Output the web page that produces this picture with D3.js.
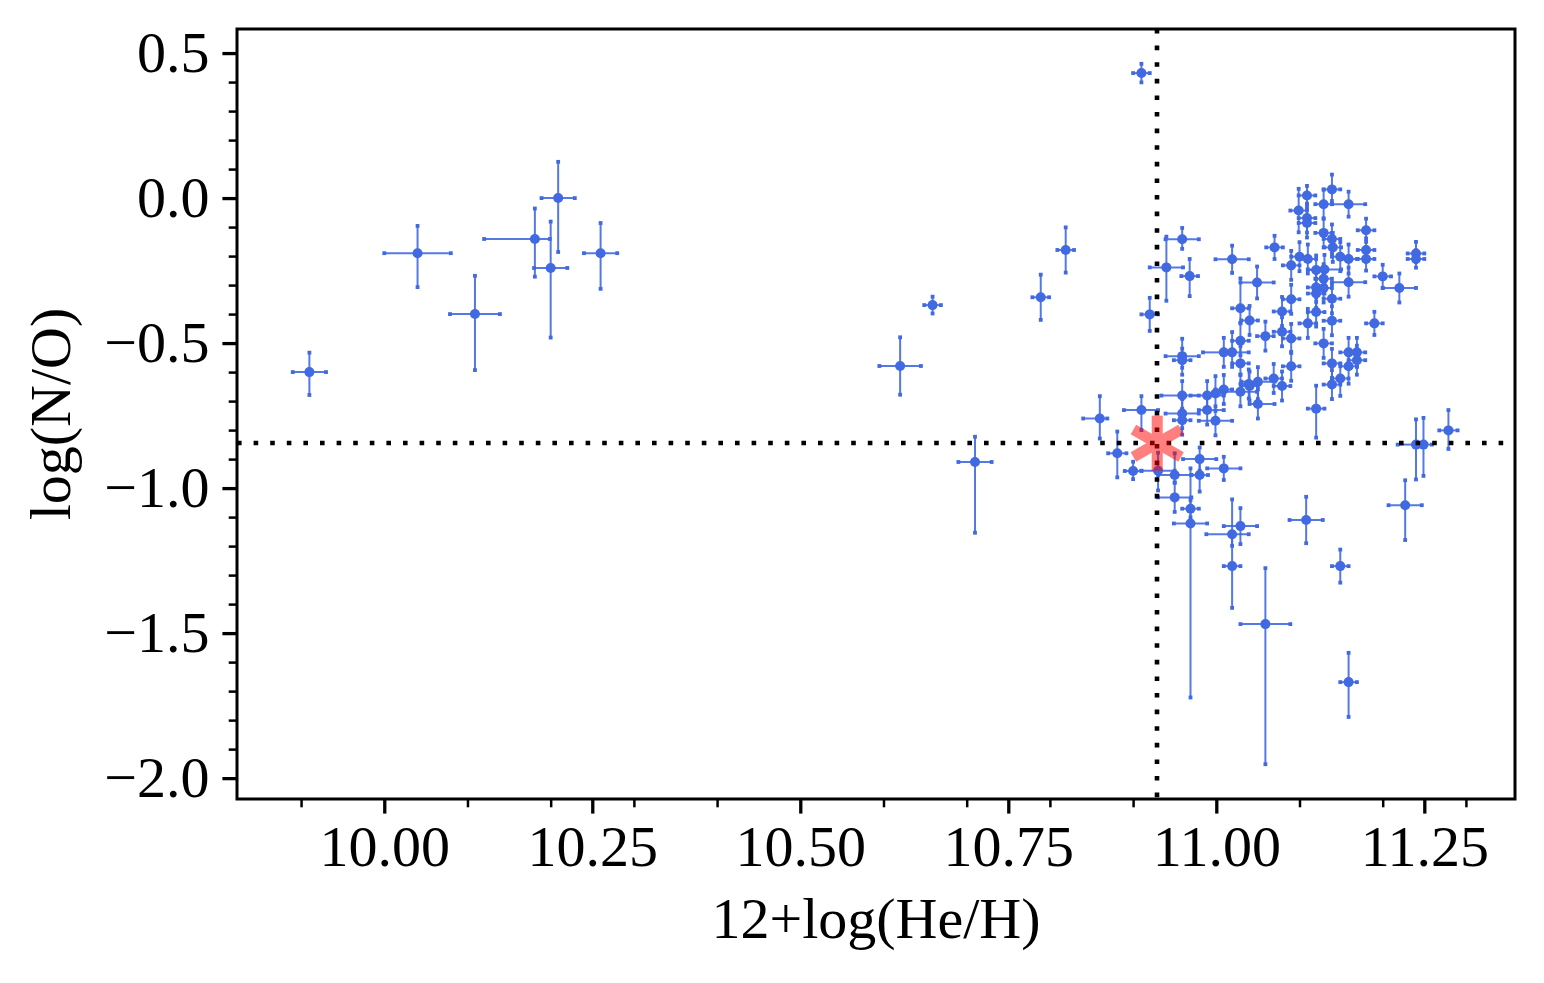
<!DOCTYPE html>
<html>
<head>
<meta charset="utf-8">
<script src="https://cdn.jsdelivr.net/npm/d3@7"></script>
<style>
  body { margin: 0; background: #fff; }
  text { font-family: "Liberation Serif", "Times New Roman", serif; fill: #000; }
</style>
</head>
<body>
<div id="chart"></div>
<script>
// sets dimensions of the canvas
var margin = {top: 29, right: 29, bottom: 184, left: 237},
    width = 1544 - margin.left - margin.right,
    height = 983 - margin.top - margin.bottom;

// 12+log(He/H) of each object
var heH = [
  9.910, 10.040, 10.109, 10.181, 10.200, 10.209, 10.260,
  10.620, 10.659, 10.710, 10.789, 10.819, 10.910,
  10.860, 10.910, 10.881, 10.900, 10.930, 10.950, 10.980, 10.980, 11.009,
  10.950, 10.969, 10.969, 11.029, 11.019, 11.019, 11.059, 11.149, 11.159,
  11.108, 11.227, 11.240, 11.249, 11.279, 11.120,
  10.959, 10.940, 10.968, 11.019, 11.049, 10.920, 11.029, 11.040,
  10.959, 10.959, 11.009, 11.019, 11.029, 11.029, 11.039, 11.050, 11.050,
  11.029, 11.009, 10.999, 10.989, 10.959, 10.989, 10.959, 10.959, 10.999, 11.040,
  11.139, 11.109, 11.129, 11.159, 11.099, 11.109, 11.109, 11.180, 11.129, 11.139,
  11.140, 11.180, 11.240, 11.070, 11.180, 11.240, 11.100, 11.110, 11.149, 11.159,
  11.090, 11.120, 11.130, 11.200, 11.129, 11.159, 11.120, 11.129, 11.220, 11.120,
  11.139, 11.090, 11.079, 11.120, 11.139, 11.110, 11.190, 11.079, 11.059, 11.090,
  11.139, 11.159, 11.169, 11.169, 11.159, 11.149, 11.139, 11.129, 11.090, 11.069, 11.079
];
var heErrLo = [
  0.020, 0.040, 0.030, 0.061, 0.020, 0.020, 0.020,
  0.025, 0.010, 0.020, 0.010, 0.010, 0.010,
  0.020, 0.021, 0.011, 0.010, 0.020, 0.020, 0.020, 0.010, 0.020,
  0.020, 0.010, 0.020, 0.020, 0.031, 0.010, 0.030, 0.010, 0.010,
  0.020, 0.020, 0.022, 0.010, 0.011, 0.010,
  0.020, 0.020, 0.010, 0.020, 0.020, 0.010, 0.010, 0.010,
  0.020, 0.010, 0.025, 0.010, 0.010, 0.010, 0.010, 0.020, 0.010,
  0.020, 0.010, 0.010, 0.020, 0.025, 0.010, 0.020, 0.010, 0.020, 0.010,
  0.010, 0.010, 0.010, 0.020, 0.010, 0.010, 0.010, 0.010, 0.010, 0.010,
  0.010, 0.010, 0.010, 0.010, 0.010, 0.010, 0.010, 0.010, 0.010, 0.010,
  0.010, 0.010, 0.020, 0.010, 0.010, 0.020, 0.010, 0.010, 0.020, 0.010,
  0.010, 0.010, 0.010, 0.010, 0.010, 0.010, 0.010, 0.010, 0.010, 0.010,
  0.010, 0.010, 0.010, 0.010, 0.010, 0.010, 0.010, 0.010, 0.010, 0.010, 0.010
];
var heErrHi = [
  0.020, 0.040, 0.030, 0.018, 0.020, 0.020, 0.020,
  0.025, 0.010, 0.020, 0.010, 0.010, 0.010,
  0.009, 0.020, 0.011, 0.010, 0.020, 0.020, 0.020, 0.010, 0.020,
  0.020, 0.010, 0.020, 0.020, 0.020, 0.010, 0.030, 0.010, 0.010,
  0.020, 0.020, 0.010, 0.010, 0.011, 0.010,
  0.020, 0.020, 0.010, 0.020, 0.020, 0.010, 0.010, 0.010,
  0.020, 0.010, 0.010, 0.020, 0.010, 0.010, 0.010, 0.020, 0.020,
  0.020, 0.010, 0.010, 0.020, 0.020, 0.020, 0.020, 0.010, 0.020, 0.010,
  0.010, 0.010, 0.010, 0.020, 0.010, 0.010, 0.010, 0.010, 0.010, 0.010,
  0.010, 0.010, 0.010, 0.010, 0.010, 0.010, 0.010, 0.010, 0.010, 0.010,
  0.010, 0.010, 0.020, 0.010, 0.010, 0.020, 0.010, 0.010, 0.020, 0.010,
  0.010, 0.010, 0.010, 0.010, 0.010, 0.010, 0.010, 0.010, 0.010, 0.010,
  0.010, 0.010, 0.010, 0.010, 0.010, 0.010, 0.010, 0.010, 0.010, 0.010, 0.010
];

// log(N/O) of each object
var nO = [
  -0.600, -0.190, -0.400, -0.141, -0.241, 0.000, -0.190,
  -0.579, -0.369, -0.910, -0.342, -0.179, 0.431,
  -0.760, -0.731, -0.880, -0.941, -0.940, -0.955, -0.900, -0.955, -0.932,
  -1.032, -1.071, -1.122, -1.131, -1.159, -1.269, -1.469, -1.269, -1.669,
  -1.110, -1.059, -0.850, -0.850, -0.801, -0.726,
  -0.142, -0.239, -0.269, -0.211, -0.291, -0.401, -0.380, -0.422,
  -0.545, -0.559, -0.532, -0.532, -0.570, -0.492, -0.641, -0.633, -0.710,
  -0.668, -0.660, -0.674, -0.681, -0.681, -0.731, -0.743, -0.766, -0.768, -0.648,
  0.030, 0.009, -0.021, -0.021, -0.043, -0.069, -0.086, -0.111, -0.120, -0.141,
  -0.170, -0.179, -0.191, -0.170, -0.210, -0.210, -0.202, -0.210, -0.202, -0.210,
  -0.232, -0.248, -0.246, -0.270, -0.278, -0.290, -0.308, -0.310, -0.310, -0.329,
  -0.347, -0.349, -0.391, -0.393, -0.423, -0.432, -0.432, -0.461, -0.476, -0.484,
  -0.570, -0.532, -0.532, -0.559, -0.580, -0.622, -0.643, -0.501, -0.580, -0.622, -0.648
];
var nOErrLo = [
  0.079, 0.117, 0.193, 0.130, 0.240, 0.186, 0.123,
  0.099, 0.029, 0.244, 0.078, 0.078, 0.032,
  0.069, 0.069, 0.083, 0.028, 0.068, 0.025, 0.040, 0.057, 0.040,
  0.050, 0.030, 0.600, 0.062, 0.040, 0.144, 0.483, 0.057, 0.120,
  0.080, 0.120, 0.120, 0.108, 0.064, 0.100,
  0.033, 0.115, 0.069, 0.047, 0.055, 0.057, 0.050, 0.050,
  0.040, 0.050, 0.050, 0.050, 0.040, 0.050, 0.050, 0.060, 0.050,
  0.050, 0.050, 0.060, 0.050, 0.050, 0.050, 0.050, 0.050, 0.050, 0.050,
  0.040, 0.033, 0.050, 0.043, 0.075, 0.050, 0.050, 0.040, 0.050, 0.050,
  0.050, 0.040, 0.030, 0.040, 0.040, 0.030, 0.050, 0.050, 0.050, 0.050,
  0.050, 0.050, 0.050, 0.040, 0.050, 0.050, 0.050, 0.050, 0.050, 0.050,
  0.050, 0.050, 0.050, 0.050, 0.050, 0.050, 0.040, 0.050, 0.050, 0.050,
  0.050, 0.050, 0.050, 0.050, 0.060, 0.060, 0.050, 0.050, 0.050, 0.050, 0.050
];
var nOErrHi = [
  0.067, 0.094, 0.132, 0.105, 0.160, 0.125, 0.104,
  0.099, 0.029, 0.087, 0.078, 0.078, 0.032,
  0.077, 0.048, 0.075, 0.032, 0.062, 0.075, 0.040, 0.060, 0.040,
  0.050, 0.030, 0.190, 0.062, 0.120, 0.100, 0.193, 0.057, 0.101,
  0.080, 0.086, 0.087, 0.092, 0.070, 0.079,
  0.039, 0.106, 0.059, 0.047, 0.055, 0.057, 0.103, 0.050,
  0.060, 0.040, 0.050, 0.070, 0.060, 0.060, 0.050, 0.050, 0.050,
  0.060, 0.050, 0.060, 0.050, 0.050, 0.050, 0.050, 0.040, 0.050, 0.050,
  0.051, 0.033, 0.050, 0.043, 0.075, 0.050, 0.050, 0.040, 0.050, 0.050,
  0.050, 0.040, 0.040, 0.040, 0.040, 0.030, 0.050, 0.050, 0.050, 0.050,
  0.050, 0.050, 0.050, 0.040, 0.050, 0.050, 0.050, 0.050, 0.050, 0.050,
  0.050, 0.050, 0.050, 0.050, 0.050, 0.050, 0.040, 0.050, 0.050, 0.050,
  0.050, 0.050, 0.050, 0.050, 0.050, 0.050, 0.050, 0.050, 0.050, 0.050, 0.050
];

// reference values (dotted lines and red marker)
var refHeH = 10.929;
var refNO = -0.845;

// tick values
var xMajorTicks = [10.00, 10.25, 10.50, 10.75, 11.00, 11.25];
var xMinorTicks = [9.9, 10.1, 10.2, 10.3, 10.4, 10.6, 10.7, 10.8, 10.9, 11.1, 11.2, 11.3];
var yMajorTicks = [-2.0, -1.5, -1.0, -0.5, 0.0, 0.5];
var yMinorTicks = [-1.9, -1.8, -1.7, -1.6, -1.4, -1.3, -1.2, -1.1, -0.9, -0.8, -0.7, -0.6,
                   -0.4, -0.3, -0.2, -0.1, 0.1, 0.2, 0.3, 0.4];

var blue = "#4169e1";

// build the point table
var dataset = heH.map(function(d, i) {
  return {x: d, xlo: heErrLo[i], xhi: heErrHi[i], y: nO[i], ylo: nOErrLo[i], yhi: nOErrHi[i]};
});

// scales
var xScale = d3.scaleLinear().domain([9.823, 11.359]).range([0, width]);
var yScale = d3.scaleLinear().domain([-2.072, 0.583]).range([height, 0]);

var svg = d3.select("#chart")
  .append("svg")
  .attr("width", width + margin.left + margin.right)
  .attr("height", height + margin.top + margin.bottom);

var chart = svg.append("g")
  .attr("transform", "translate(" + margin.left + "," + margin.top + ")");

var minus = function(s) { return s.replace("-", "\u2212"); };

// minor ticks first
chart.append("g")
  .attr("class", "x minor")
  .attr("transform", "translate(0," + height + ")")
  .call(d3.axisBottom(xScale).tickValues(xMinorTicks).tickSize(8.3).tickFormat(""));

chart.append("g")
  .attr("class", "y minor")
  .call(d3.axisLeft(yScale).tickValues(yMinorTicks).tickSize(8.3).tickFormat(""));

// major axes
chart.append("g")
  .attr("class", "x major")
  .attr("transform", "translate(0," + height + ")")
  .call(d3.axisBottom(xScale).tickValues(xMajorTicks).tickSize(14.6).tickPadding(13)
    .tickFormat(function(d) { return minus(d3.format(".2f")(d)); }));

chart.append("g")
  .attr("class", "y major")
  .call(d3.axisLeft(yScale).tickValues(yMajorTicks).tickSize(14.6).tickPadding(13)
    .tickFormat(function(d) { return minus(d3.format(".1f")(d)); }));

chart.selectAll(".domain").remove();
chart.selectAll(".minor line").attr("stroke", "#000").attr("stroke-width", 2.5);
chart.selectAll(".major line").attr("stroke", "#000").attr("stroke-width", 3.3);
chart.selectAll(".major text")
  .attr("font-family", "Liberation Serif, Times New Roman, serif")
  .attr("font-size", "58px");
chart.selectAll(".x.major text").attr("dy", "0.68em");

// error bars
var bars = chart.append("g").attr("class", "errorbars");

bars.selectAll("line.xerr")
  .data(dataset)
  .enter()
  .append("line")
  .attr("class", "xerr")
  .attr("x1", function(d) { return xScale(d.x - d.xlo); })
  .attr("x2", function(d) { return xScale(d.x + d.xhi); })
  .attr("y1", function(d) { return yScale(d.y); })
  .attr("y2", function(d) { return yScale(d.y); })
  .attr("stroke", blue).attr("stroke-opacity", 0.9).attr("stroke-width", 2);

bars.selectAll("line.yerr")
  .data(dataset)
  .enter()
  .append("line")
  .attr("class", "yerr")
  .attr("x1", function(d) { return xScale(d.x); })
  .attr("x2", function(d) { return xScale(d.x); })
  .attr("y1", function(d) { return yScale(d.y - d.ylo); })
  .attr("y2", function(d) { return yScale(d.y + d.yhi); })
  .attr("stroke", blue).attr("stroke-opacity", 0.9).attr("stroke-width", 2);

// little square caps at the bar ends
var caps = [];
dataset.forEach(function(d) {
  caps.push([d.x - d.xlo, d.y], [d.x + d.xhi, d.y], [d.x, d.y - d.ylo], [d.x, d.y + d.yhi]);
});

bars.selectAll("rect.cap")
  .data(caps)
  .enter()
  .append("rect")
  .attr("class", "cap")
  .attr("x", function(d) { return xScale(d[0]) - 1.9; })
  .attr("y", function(d) { return yScale(d[1]) - 1.9; })
  .attr("width", 3.8)
  .attr("height", 3.8)
  .attr("fill", blue);

// points
chart.selectAll("circle.pt")
  .data(dataset)
  .enter()
  .append("circle")
  .attr("class", "pt")
  .attr("cx", function(d) { return xScale(d.x); })
  .attr("cy", function(d) { return yScale(d.y); })
  .attr("r", 5)
  .attr("fill", blue);

// dotted reference lines
chart.append("line")
  .attr("x1", 0).attr("x2", width)
  .attr("y1", Math.round(yScale(refNO))).attr("y2", Math.round(yScale(refNO)))
  .attr("stroke", "#000").attr("stroke-width", 4.6)
  .attr("stroke-dasharray", "4.6,12");

chart.append("line")
  .attr("x1", Math.round(xScale(refHeH))).attr("x2", Math.round(xScale(refHeH)))
  .attr("y1", 0).attr("y2", height)
  .attr("stroke", "#000").attr("stroke-width", 4.6)
  .attr("stroke-dasharray", "4.6,12");

// red asterisk marker
var star = chart.append("g")
  .attr("transform", "translate(" + xScale(refHeH) + "," + yScale(refNO) + ")")
  .attr("opacity", 0.5);

[90, 30, 150].forEach(function(a) {
  var r = a * Math.PI / 180, L = 27.5;
  star.append("line")
    .attr("x1", -L * Math.cos(r)).attr("y1", -L * Math.sin(r))
    .attr("x2", L * Math.cos(r)).attr("y2", L * Math.sin(r))
    .attr("stroke", "#ff0000").attr("stroke-width", 11);
});

// frame
chart.append("rect")
  .attr("width", width).attr("height", height)
  .attr("fill", "none").attr("stroke", "#000").attr("stroke-width", 3);

// axis labels
svg.append("text")
  .attr("x", margin.left + width / 2)
  .attr("y", 938)
  .attr("text-anchor", "middle")
  .style("font-size", "58px")
  .text("12+log(He/H)");

svg.append("text")
  .attr("transform", "translate(70," + (margin.top + height / 2) + ") rotate(-90)")
  .attr("text-anchor", "middle")
  .style("font-size", "58px")
  .text("log(N/O)");
</script>
</body>
</html>
